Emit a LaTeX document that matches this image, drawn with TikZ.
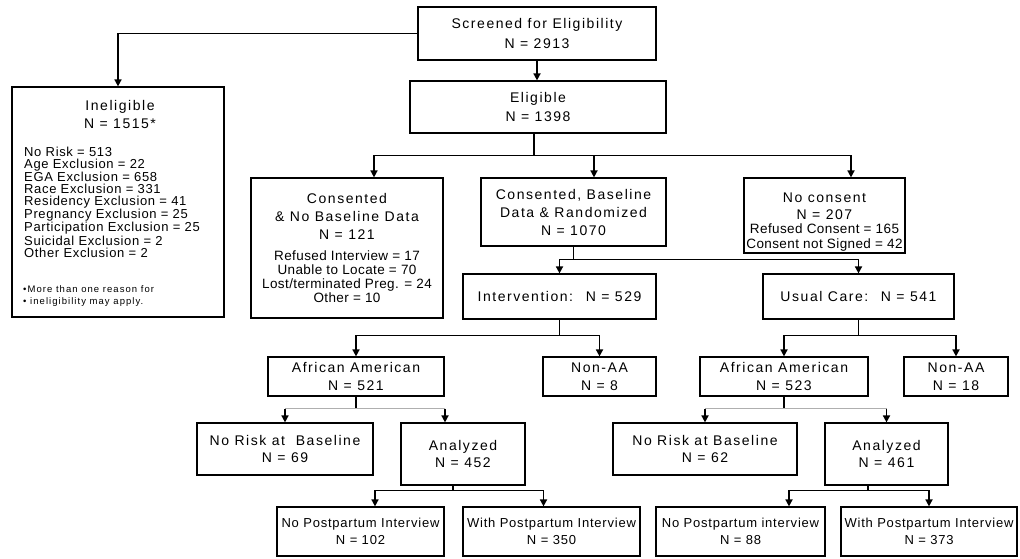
\documentclass[tikz,border=0pt]{standalone}
\usepackage{fontspec}
\setmainfont{Liberation Sans}
\newfontfamily\lbl{Liberation Sans}[LetterSpace=11]
\newfontfamily\lbm{Liberation Sans}[LetterSpace=6]
\newfontfamily\lbi{Liberation Sans}[LetterSpace=5]
\newfontfamily\lbs{Liberation Sans}[LetterSpace=3]
\newfontfamily\lbf{Liberation Sans}[LetterSpace=11]
\usetikzlibrary{arrows.meta}
\definecolor{lightline}{RGB}{175,175,175}
\begin{document}
\begin{tikzpicture}[x=1pt,y=-1pt,
  bx/.style n args={2}{draw, line width=1.2pt, inner sep=0pt, minimum width=#1, minimum height=#2, align=center, font=\lbl\fontsize{14}{17}\selectfont},
  txt/.style={inner sep=0pt, align=center, font=\lbl\fontsize{14}{18}\selectfont},
  ln/.style={line width=1.6pt},
  gln/.style={line width=1pt, draw=lightline},
  arr/.style={line width=1.6pt, -{Triangle[length=7pt,width=7pt]}},
  small/.style={inner sep=0pt, align=center, font=\lbs\fontsize{13.5}{14}\selectfont},
  botbox/.style={font=\lbm\fontsize{13}{17}\selectfont}
]
\useasboundingbox (0,0) rectangle (1020,558);
\fill[white] (0,0) rectangle (1020,558);

% boxes
\node[bx={238}{53}, font=\lbl\fontsize{14}{19.5}\selectfont] (scr) at (537,33.5) {Screened for Eligibility\\N = 2913};
\node[bx={256}{52}, font=\lbl\fontsize{14}{19}\selectfont] (elig) at (538,107) {Eligible\\N = 1398};

\node[bx={212}{230}] (inel) at (118,202) {};
\node[txt] (ineltitle) at (120,114) {Ineligible\\N = 1515*};
\node[anchor=north west, inner sep=0pt, align=left, font=\lbi\fontsize{13}{12}\selectfont] (inellist) at (24,147) {No Risk = 513\\Age Exclusion = 22\\EGA Exclusion = 658\\Race Exclusion = 331\\Residency Exclusion = 41\\Pregnancy Exclusion = 25\\Participation Exclusion = 25\\Suicidal Exclusion = 2\\Other Exclusion = 2};
\node[anchor=north west, inner sep=0pt, align=left, font=\lbf\fontsize{9.5}{12}\selectfont] (inelnote) at (23,285.5) {•More than one reason for\\• ineligibility may apply.};

\node[bx={192}{140}] (cons) at (347,248) {};
\node[txt] (constitle) at (347,216) {Consented\\\& No Baseline Data\\N = 121};
\node[small] (conslist) at (347,276.5) {Refused Interview = 17\\Unable to Locate = 70\\Lost/terminated Preg. = 24\\Other = 10};

\node[bx={185}{68}, font=\lbl\fontsize{14}{18}\selectfont] (rand) at (573.5,212) {Consented, Baseline\\Data \& Randomized\\N = 1070};

\node[bx={161}{75}] (nocon) at (824.5,215.5) {};
\node[txt, font=\lbl\fontsize{14}{17}\selectfont] (nocontitle) at (824.5,206.5) {No consent\\N = 207};
\node[small, font=\lbs\fontsize{13.5}{15}\selectfont] (noconlist) at (824.5,237.5) {Refused Consent = 165\\Consent not Signed = 42};

\node[bx={193}{45}] (intv) at (559.5,296.5) {Intervention:~ N = 529};
\node[bx={191}{45}] (usual) at (858.5,296.5) {Usual Care:~ N = 541};

\node[bx={176}{39}, font=\lbl\fontsize{14}{18}\selectfont] (aaL) at (356,376.5) {African American\\N = 521};
\node[bx={113}{39}, font=\lbl\fontsize{14}{18}\selectfont] (nonaaL) at (599.5,376.5) {Non-AA\\N = 8};
\node[bx={168}{39}, font=\lbl\fontsize{14}{18}\selectfont] (aaR) at (784,376.5) {African American\\N = 523};
\node[bx={104}{39}, font=\lbl\fontsize{14}{18}\selectfont] (nonaaR) at (956,376.5) {Non-AA\\N = 18};

\node[bx={176}{52}] (nrL) at (285,449) {No Risk at~ Baseline\\N = 69};
\node[bx={124}{62}] (anL) at (463,454) {Analyzed\\N = 452};
\node[bx={184}{52}] (nrR) at (705,449) {No Risk at Baseline\\N = 62};
\node[bx={123}{62}] (anR) at (886.5,454) {Analyzed\\N = 461};

\node[bx={167}{49}, botbox] (npL) at (360.5,531.5) {No Postpartum Interview\\N = 102};
\node[bx={177}{49}, botbox] (wpL) at (551.5,531.5) {With Postpartum Interview\\N = 350};
\node[bx={169}{49}, botbox] (npR) at (740.5,531.5) {No Postpartum interview\\N = 88};
\node[bx={176}{49}, botbox] (wpR) at (929,531.5) {With Postpartum Interview\\N = 373};

% connectors
\draw[arr] (scr.west) -| (inel.north);
\draw[arr] (scr.south) -- (scr.south |- elig.north);

\draw[ln] ([xshift=-4pt]elig.south) -- ++(0,22) coordinate (b1);
\draw[arr] (b1) -| ([xshift=27pt]cons.north);
\draw[arr] (b1) -| ([xshift=20.5pt]rand.north);
\draw[arr] (b1) -| ([xshift=26.5pt]nocon.north);

\draw[ln] (rand.south) -- ++(0,13) coordinate (b2);
\draw[arr] (b2) -| (intv.north);
\draw[arr] (b2) -| (usual.north);

\draw[ln] (intv.south) -- ++(0,16) coordinate (b3);
\draw[arr] (b3) -| (aaL.north);
\draw[arr] (b3) -| (nonaaL.north);

\draw[ln] (usual.south) -- ++(0,16) coordinate (b4);
\draw[arr] (b4) -| (aaR.north);
\draw[arr] (b4) -| (nonaaR.north);

\coordinate (anLin) at ([xshift=-18pt]anL.north);
\draw[ln] (aaL.south) -- ++(0,12) coordinate (b5);
\draw[gln] (b5 -| nrL.north) -- (b5 -| anLin);
\draw[arr] (b5 -| nrL.north) -- (nrL.north);
\draw[arr] (b5 -| anLin) -- (anLin);

\draw[ln] (aaR.south) -- ++(0,12) coordinate (b6);
\draw[gln] (b6 -| nrR.north) -- (b6 -| anR.north);
\draw[arr] (b6 -| nrR.north) -- (nrR.north);
\draw[arr] (b6 -| anR.north) -- (anR.north);

\draw[ln] ([xshift=-10pt]anL.south) -- ++(0,5) coordinate (b7);
\draw[arr] (b7) -| ([xshift=14.5pt]npL.north);
\draw[arr] (b7) -| ([xshift=-8pt]wpL.north);

\draw[ln] ([xshift=-18.5pt]anR.south) -- ++(0,5) coordinate (b8);
\draw[arr] (b8) -| ([xshift=48.5pt]npR.north);
\draw[arr] (b8) -| (wpR.north);
\end{tikzpicture}
\end{document}
